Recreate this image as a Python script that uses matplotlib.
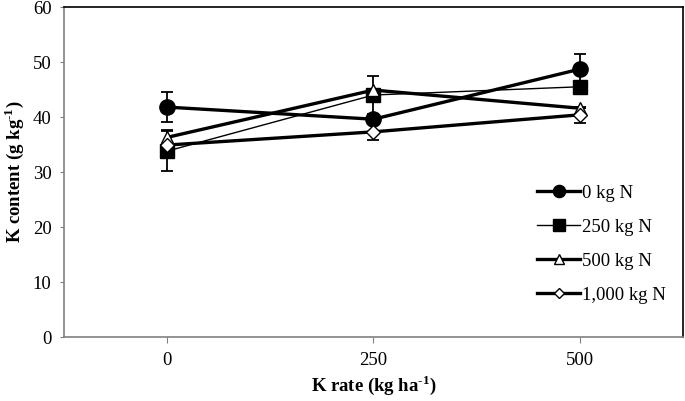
import numpy as np
import matplotlib.pyplot as plt
from matplotlib.lines import Line2D

plt.rcParams['font.family'] = 'Liberation Serif'
plt.rcParams['mathtext.fontset'] = 'custom'
plt.rcParams['mathtext.rm'] = 'Liberation Serif:bold'
plt.rcParams['mathtext.bf'] = 'Liberation Serif:bold'

# K rate categories
k_rate = ['0', '250', '500']

# K content (g/kg) per N rate, with error bars
n0 = [41.8, 39.6, 48.7]
n0_err = [2.7, 0.0, 2.7]
n250 = [33.8, 44.0, 45.5]
n250_err = [3.7, 3.5, 0.0]
n500 = [36.3, 44.9, 41.6]
n500_err = [1.3, 0.0, 0.0]
n1000 = [34.9, 37.3, 40.4]
n1000_err = [0.0, 1.5, 1.5]

labels = ['0 kg N', '250 kg N', '500 kg N', '1,000 kg N']

fig = plt.figure(figsize=(6.85, 4.01), dpi=100)
ax = fig.add_axes([0.0934, 0.1596, 0.9036, 0.8229])

x = np.arange(len(k_rate))
styles = [
    dict(marker='o', ms=11, mfc='black', lw=2.4),
    dict(marker='s', ms=10, mfc='black', lw=1.0),
    dict(marker='^', ms=9, mfc='white', lw=2.4),
    dict(marker='D', ms=7, mfc='white', lw=2.4),
]
series = [(n0, n0_err), (n250, n250_err), (n500, n500_err), (n1000, n1000_err)]

handles = []
for (vals, err), st, lab in zip(series, styles, labels):
    ax.errorbar(x, vals, yerr=err, color='black', mec='black', capsize=4,
                elinewidth=1.3, capthick=1.3, **st)
    handles.append(Line2D([], [], color='black', mec='black', label=lab, **st))

ax.set_xlim(-0.5, 2.5)
ax.set_ylim(0, 60)
ax.set_xticks(x)
ax.set_xticklabels(k_rate)
ax.set_yticks(np.arange(0, 61, 10))
ax.tick_params(labelsize=13.5, color='#808080', length=4)
ax.tick_params(axis='x', pad=7)
ax.tick_params(axis='y', length=3, pad=6)

for side in ['left', 'bottom']:
    ax.spines[side].set_color('#808080')
    ax.spines[side].set_linewidth(1.2)
for side in ['top', 'right']:
    ax.spines[side].set_color('black')
    ax.spines[side].set_linewidth(1.2)

ax.set_ylabel(r'K content (g kg$^{\text{-1}}$)', fontsize=13.5, fontweight='bold', labelpad=5)
ax.set_xlabel(r'K rate (kg ha$^{\text{-1}}$)', fontsize=13.5, fontweight='bold', labelpad=3)

ax.legend(handles=handles, loc='lower right', bbox_to_anchor=(1.0, 0.05), frameon=False,
          fontsize=13.5, handlelength=2.3, handletextpad=0.1, labelspacing=0.9,
          markerscale=0.8)

fig.savefig('out.png', dpi=100)
